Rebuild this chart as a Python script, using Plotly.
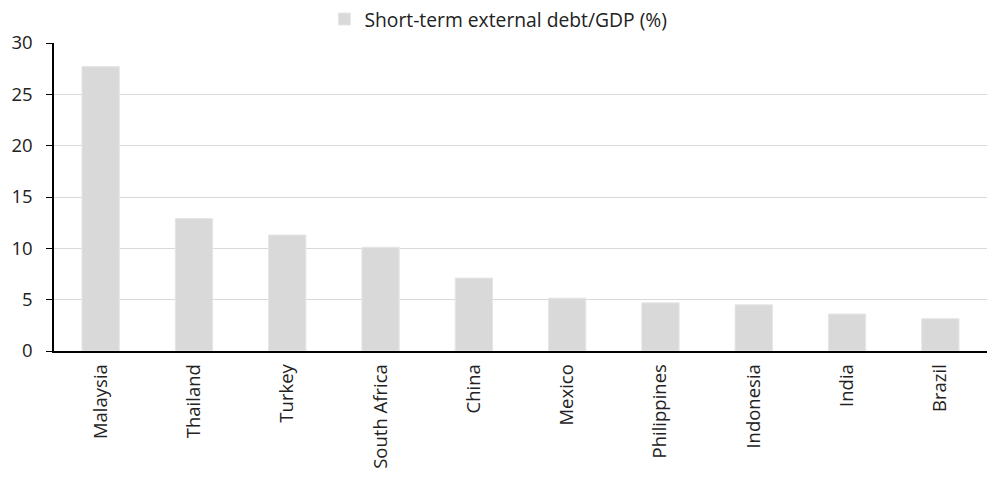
import plotly.graph_objects as go

countries = ["Malaysia", "Thailand", "Turkey", "South Africa", "China",
             "Mexico", "Philippines", "Indonesia", "India", "Brazil"]
debt_gdp = [27.7, 12.9, 11.3, 10.1, 7.1, 5.15, 4.7, 4.5, 3.6, 3.15]
y_ticks = [0, 5, 10, 15, 20, 25, 30]
series_name = "Short-term external debt/GDP (%)"

fig = go.Figure()
fig.add_trace(go.Bar(
    x=countries, y=debt_gdp, name=series_name,
    marker=dict(color="#d9d9d9", line=dict(color="#e6e6e6", width=1)),
    width=0.4, showlegend=True,
))

font = "Open Sans, Noto Sans, DejaVu Sans, sans-serif"
fig.update_layout(
    width=992, height=477,
    margin=dict(l=54, r=5, t=43, b=126, autoexpand=False),
    paper_bgcolor="white", plot_bgcolor="white",
    font=dict(family=font, size=18, color="#222222"),
    showlegend=True,
    legend=dict(orientation="h", xref="container", yref="container",
                x=0.327, xanchor="left", y=1.0, yanchor="top",
                font=dict(size=19.3, color="#222222"), itemwidth=30,
                bgcolor="rgba(0,0,0,0)"),
    bargap=0.6,
    xaxis=dict(
        showgrid=False, showline=True, linecolor="black", linewidth=1.5,
        ticks="", tickangle=-90, tickfont=dict(size=18.5), ticklabelstandoff=4,
        automargin=False,
    ),
    yaxis=dict(
        range=[0, 30], tickvals=y_ticks, showgrid=True, gridcolor="#d9d9d9",
        gridwidth=1.2, showline=True, linecolor="black", linewidth=1.5,
        ticks="outside", ticklen=6, tickcolor="black", tickfont=dict(size=18.5),
        ticklabelstandoff=10, zeroline=False, automargin=False,
    ),
)

fig.write_html("out.html")
